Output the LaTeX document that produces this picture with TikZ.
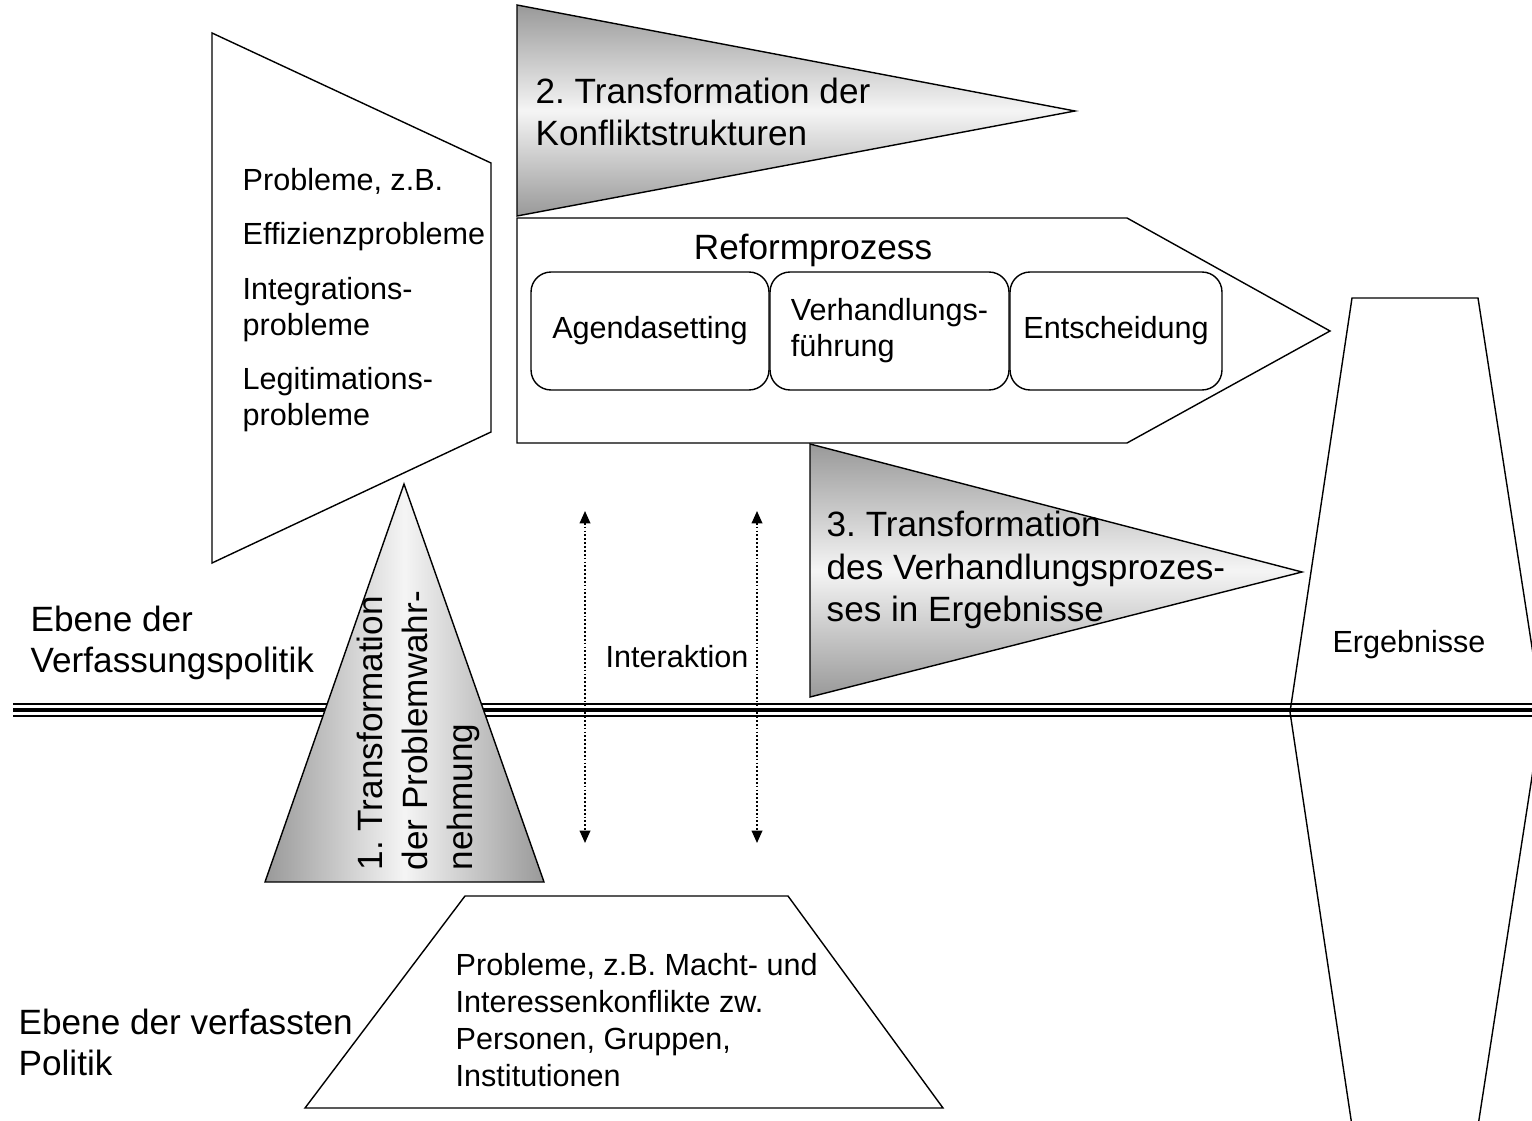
\documentclass[tikz,border=0pt]{standalone}
\usepackage{fontspec}
\setmainfont{Liberation Sans}
\usetikzlibrary{arrows.meta}
\frenchspacing

\begin{document}
\begin{tikzpicture}[x=0.02cm,y=-0.02cm,line width=0.8pt,
  smalltext/.style={font=\fontsize{17.4}{20.5}\selectfont,inner sep=0pt,align=left},
  bigtext/.style={font=\fontsize{20}{23.4}\selectfont,inner sep=0pt,align=left},
  shadev/.style={draw,top color=black!40,bottom color=black!40,middle color=black!4},
  shadeh/.style={draw,left color=black!40,right color=black!40,middle color=black!4},
  stepbox/.style={draw,rounded corners=0.4cm,minimum height=2.36cm,smalltext},
  inter/.style={line width=1pt,dash pattern=on 1pt off 1.2pt,{Triangle[length=7pt,width=6pt]}-{Triangle[length=7pt,width=6pt]}}]
\useasboundingbox (0,0) rectangle (1532,1121);

% Trennlinie der Ebenen
\foreach \y/\w in {704/0.6pt,710/2.6pt,716/0.6pt}
  \draw[line width=\w] (13,\y) -- (1532,\y);

% Probleme (oben links)
\draw (212,33) -- (491,163) -- (491,432) -- (212,563) -- cycle;
\node[smalltext,anchor=west] (probl) at (242,300)
  {Probleme, z.B.\\[10.5pt] Effizienzprobleme\\[10.5pt] Integrations-\\probleme\\[10.5pt] Legitimations-\\probleme};

% 2. Transformation
\draw (517,218) -- (1127,218) -- (1330,331) -- (1127,443) -- (517,443) -- cycle;
\draw[shadev] (517,5) -- (1075,111) -- (517,216) -- cycle;
\node[bigtext,anchor=west] (trans2) at (535,112) {2. Transformation der\\Konfliktstrukturen};

% Reformprozess
\node[bigtext] (reform) at (813,250) {Reformprozess};
\node[stepbox,minimum width=4.76cm] (agenda) at (650,331) {Agendasetting};
\node[stepbox,minimum width=4.78cm] (verh) at (889.5,331) {Verhandlungs-\\f\"uhrung};
\node[stepbox,minimum width=4.24cm] (entsch) at (1116,331) {Entscheidung};

% 3. Transformation
\draw[shadev] (810,444) -- (1302,572) -- (810,697) -- cycle;
\node[bigtext,font=\fontsize{20}{24}\selectfont,anchor=west] (trans3) at (826,570)
  {3. Transformation\\des Verhandlungsprozes-\\ses in Ergebnisse};

% 1. Transformation
\draw[shadeh] (404,484) -- (544,882) -- (265,882) -- cycle;
\node[bigtext,font=\fontsize{20}{25.6}\selectfont,rotate=90,anchor=west] (trans1) at (418,871)
  {1. Transformation\\der Problemwahr-\\nehmung};

% Ergebnisse
\begin{scope}
\clip (0,0) rectangle (1532,1121);
\draw (1352,298) -- (1478,298) -- (1542,712) -- (1478,1126) -- (1352,1126) -- (1290,712) -- cycle;
\end{scope}
\node[smalltext] (erg) at (1409,645) {Ergebnisse};

% Interaktion
\foreach \x/\n in {585/a,757/b} {
  \coordinate (top\n) at (\x,511);
  \coordinate (bot\n) at (\x,843);
  \draw[inter] (top\n) -- (bot\n);
}
\node[smalltext] (inter) at (677,657) {Interaktion};

% Probleme (unten)
\draw (465,896) -- (788,896) -- (943,1108) -- (305,1108) -- cycle;
\node[smalltext,font=\fontsize{17.4}{21}\selectfont,anchor=west] (konfl) at (455,1020)
  {Probleme, z.B. Macht- und\\Interessenkonflikte zw.\\Personen, Gruppen,\\Institutionen};

% Ebenen
\node[bigtext,anchor=west] (ebene1) at (30,643) {Ebene der\\Verfassungspolitik};
\node[bigtext,anchor=west] (ebene2) at (18,1042) {Ebene der verfassten\\Politik};
\end{tikzpicture}
\end{document}
